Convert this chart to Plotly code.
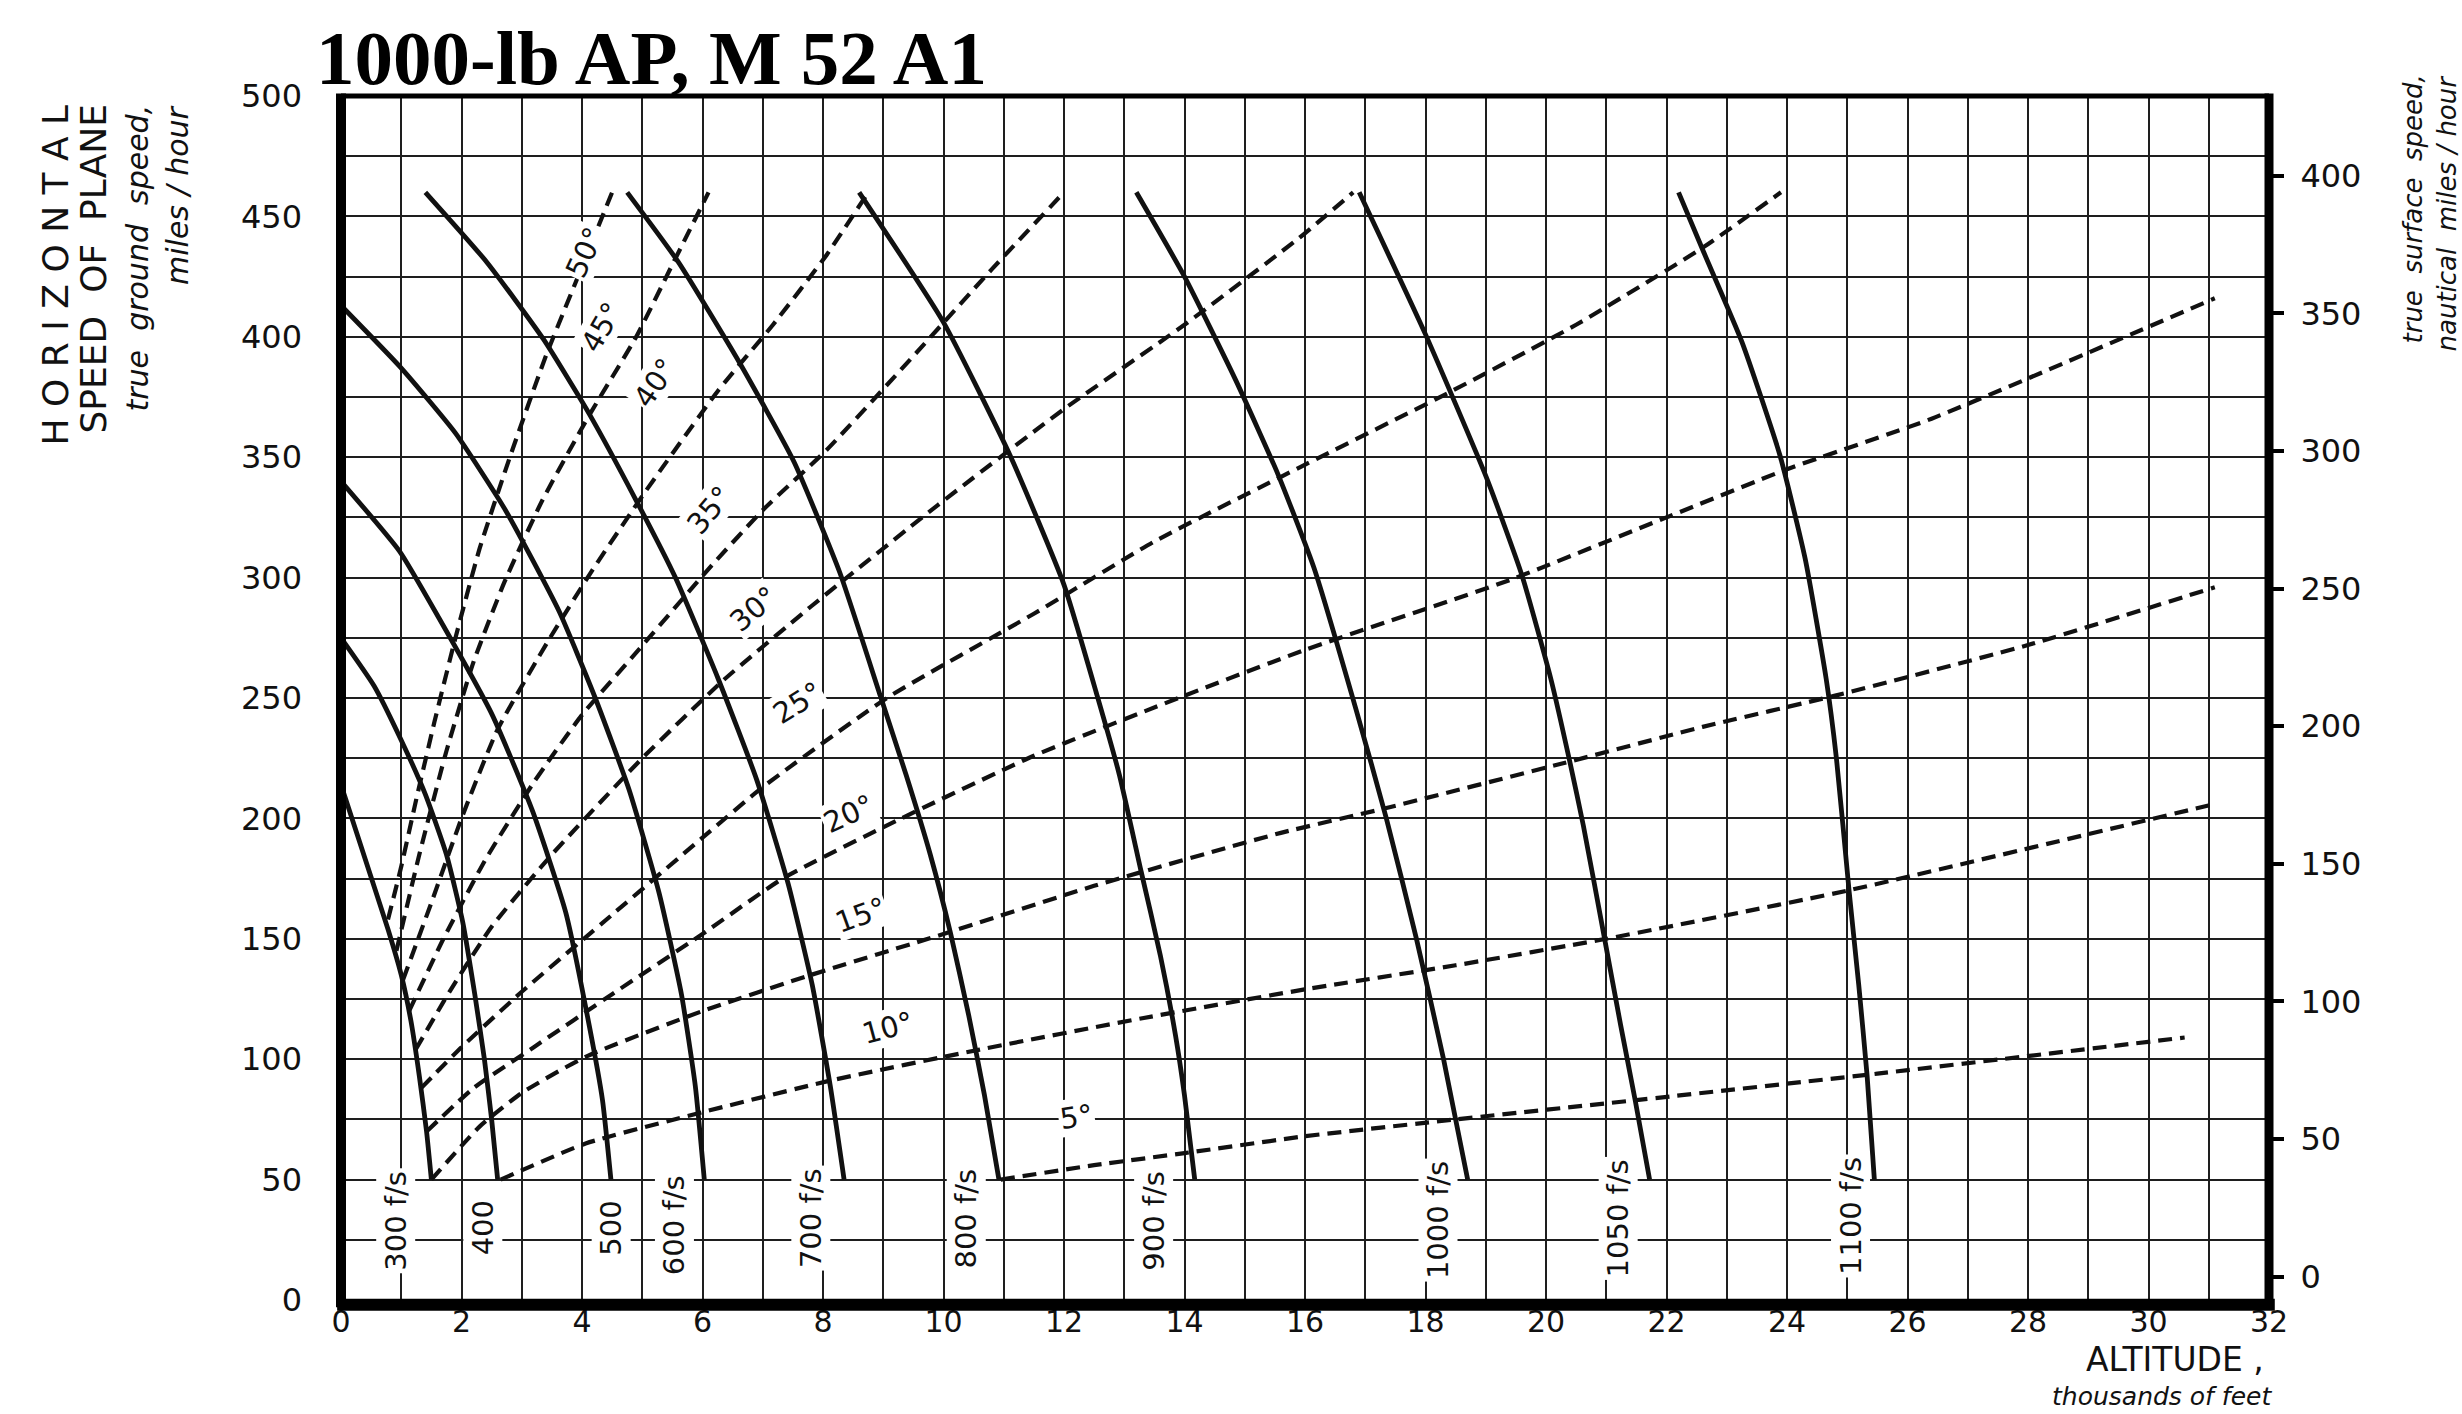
import plotly.graph_objects as go

# ---------------- data (altitude in thousands of feet, speed in mph) ----------------
title_text = "1000-lb AP, M 52 A1"

# constant striking-velocity curves (solid)
sv_labels = ["300 f/s", "400", "500", "600 f/s", "700 f/s", "800 f/s", "900 f/s",
             "1000 f/s", "1050 f/s", "1100 f/s"]
v300_alt = [0.0, 0.52, 0.78, 1.0, 1.16, 1.30, 1.42, 1.50]
v300_mph = [214, 174, 154, 135, 116, 93, 70, 50]
v400_alt = [0.0, 0.55, 0.99, 1.40, 1.75, 2.02, 2.22, 2.38, 2.50, 2.60]
v400_mph = [275, 255, 233, 210, 185, 157, 127, 100, 75, 50]
v500_alt = [0.0, 0.97, 1.63, 2.51, 3.18, 3.73, 4.12, 4.34, 4.48]
v500_mph = [340, 311, 283, 243, 203, 161, 114, 83, 50]
v600_alt = [0.0, 1.0, 1.9, 2.73, 3.62, 4.22, 4.78, 5.28, 5.65, 5.88, 6.03]
v600_mph = [413, 387, 360, 328, 286, 250, 212, 169, 127, 89, 50]
v700_alt = [1.4, 2.42, 3.36, 4.12, 4.9, 5.55, 6.26, 6.9, 7.42, 7.82, 8.12, 8.35]
v700_mph = [460, 431, 399, 368, 332, 300, 258, 216, 173, 131, 89, 50]
v800_alt = [4.75, 5.6, 6.62, 7.52, 8.28, 8.95, 9.38, 9.78, 10.12, 10.42, 10.68, 10.92]
v800_mph = [460, 431, 389, 348, 302, 251, 218, 185, 152, 118, 85, 50]
v900_alt = [8.6, 10.0, 11.1, 12.0, 12.55, 12.92, 13.28, 13.6, 13.85, 14.0, 14.17]
v900_mph = [460, 406, 351, 297, 251, 218, 178, 143, 110, 85, 50]
v1000_alt = [13.2, 14.0, 14.85, 15.55, 16.15, 16.85, 17.35, 17.85, 18.3, 18.7]
v1000_mph = [460, 425, 382, 343, 304, 245, 200, 150, 100, 50]
v1050_alt = [16.9, 18.0, 19.02, 19.6, 20.08, 20.4, 20.62, 20.98, 21.24, 21.48, 21.72]
v1050_mph = [460, 401, 341, 301, 258, 223, 197, 149, 114, 83, 50]
v1100_alt = [22.2, 22.62, 23.25, 23.88, 24.3, 24.65, 24.82, 25.03, 25.19, 25.33, 25.45]
v1100_mph = [460, 435, 398, 351, 308, 258, 225, 170, 131, 93, 50]

# constant striking-angle curves (dashed)
ang_labels = ["50°", "45°", "40°", "35°", "30°", "25°", "20°", "15°", "10°", "5°"]
a50_alt = [0.78, 1.0, 1.25, 1.55, 1.9, 2.3, 2.83, 3.4, 3.95, 4.5]
a50_mph = [158, 180, 208, 240, 275, 312, 352, 392, 426, 460]
a45_alt = [0.92, 1.3, 1.75, 2.2, 2.71, 3.34, 4.11, 4.9, 5.5, 6.1]
a45_mph = [145, 185, 228, 265, 298, 332, 367, 400, 430, 460]
a40_alt = [1.03, 1.5, 2.0, 2.6, 3.47, 4.17, 5.06, 6.27, 7.17, 8.06, 8.75]
a40_mph = [133, 165, 200, 237, 275, 303, 336, 378, 405, 434, 460]
a35_alt = [1.13, 1.7, 2.4, 3.2, 4.0, 4.87, 6.15, 7.04, 8.06, 9.5, 10.8, 12.0]
a35_mph = [120, 150, 183, 215, 243, 268, 305, 329, 353, 392, 428, 460]
a30_alt = [1.24, 1.8, 2.5, 3.5, 5.0, 6.33, 7.8, 9.9, 12.0, 14.0, 15.9, 16.8]
a30_mph = [104, 128, 155, 185, 225, 257, 288, 330, 370, 405, 441, 460]
a25_alt = [1.33, 2.0, 3.0, 4.5, 6.0, 7.0, 9.06, 11.5, 13.5, 15.93, 18.4, 20.5, 22.6, 23.9]
a25_mph = [88, 105, 128, 160, 192, 213, 250, 285, 315, 346, 377, 405, 437, 460]
a20_alt = [1.42, 2.2, 3.2, 4.5, 6.0, 7.33, 9.3, 11.5, 13.9, 16.0, 19.4, 22.0, 24.0, 26.4, 31.1]
a20_mph = [70, 88, 105, 127, 152, 175, 200, 226, 250, 270, 299, 325, 345, 366, 416]
a15_alt = [1.5, 2.3, 3.0, 4.06, 6.0, 7.8, 10.0, 12.5, 15.6, 17.3, 20.3, 22.6, 24.8, 28.0, 31.1]
a15_mph = [50, 72, 86, 101, 120, 135, 152, 172, 194, 204, 223, 238, 251, 272, 296]
a10_alt = [2.65, 4.06, 6.0, 8.1, 10.6, 13.3, 16.0, 18.5, 21.0, 25.0, 31.1]
a10_mph = [50, 65, 78, 91, 104, 117, 129, 139, 150, 170, 206]
a5_alt = [10.95, 12.5, 14.0, 16.0, 18.5, 21.5, 25.5, 30.6]
a5_mph = [50, 56, 61, 68, 75, 83, 94, 109]

# label anchor points
sv_label_alt = [0.9, 2.35, 4.48, 5.54, 7.8, 10.38, 13.48, 18.2, 21.2, 25.05]
sv_label_mph = [33, 30, 30, 31, 34, 34, 33, 33, 34, 35]
ang_label_alt = [4.04, 4.33, 5.21, 6.12, 6.85, 7.58, 8.42, 8.63, 9.07, 12.2]
ang_label_mph = [435, 404, 381, 328, 287, 248, 202, 160, 113, 76]
ang_label_rot = [-65, -60, -56, -50, -40, -32, -25, -20, -15, -8]

x_ticks = list(range(0, 33))
y_ticks = list(range(0, 501, 25))
y2_ticks = list(range(0, 401, 50))

# ---------------- figure ----------------
INK = "#111111"
SANS = "DejaVu Sans"
W, H = 2462, 1414
PL, PR, PT, PB = 341, 2269, 96, 1300   # plot area in pixels


def px2paper_x(px):
    return (px - PL) / (PR - PL)


def px2paper_y(py):
    return (PB - py) / (PB - PT)


fig = go.Figure()

solid = [(v300_alt, v300_mph), (v400_alt, v400_mph), (v500_alt, v500_mph),
         (v600_alt, v600_mph), (v700_alt, v700_mph), (v800_alt, v800_mph),
         (v900_alt, v900_mph), (v1000_alt, v1000_mph), (v1050_alt, v1050_mph),
         (v1100_alt, v1100_mph)]
for (xs, ys), name in zip(solid, sv_labels):
    fig.add_trace(go.Scatter(x=xs, y=ys, mode="lines", name=name,
                             line=dict(color=INK, width=4.8, shape="spline", smoothing=0.5),
                             showlegend=False, hoverinfo="skip"))

dashed = [(a50_alt, a50_mph), (a45_alt, a45_mph), (a40_alt, a40_mph), (a35_alt, a35_mph),
          (a30_alt, a30_mph), (a25_alt, a25_mph), (a20_alt, a20_mph), (a15_alt, a15_mph),
          (a10_alt, a10_mph), (a5_alt, a5_mph)]
for (xs, ys), name in zip(dashed, ang_labels):
    fig.add_trace(go.Scatter(x=xs, y=ys, mode="lines", name=name,
                             line=dict(color=INK, width=4.2, dash="14px,8px",
                                       shape="spline", smoothing=0.5),
                             showlegend=False, hoverinfo="skip"))

# invisible trace to carry the right-hand (nautical) axis
fig.add_trace(go.Scatter(x=[0, 32], y=[0, 400], yaxis="y2", mode="lines",
                         line=dict(width=0, color="rgba(0,0,0,0)"),
                         showlegend=False, hoverinfo="skip"))

annotations = []
for xv, yv, t in zip(sv_label_alt, sv_label_mph, sv_labels):
    annotations.append(dict(x=xv, y=yv, xref="x", yref="y", text=t, showarrow=False,
                            textangle=-90, bgcolor="white", borderpad=2,
                            font=dict(family=SANS, size=29, color=INK)))
for xv, yv, t, r in zip(ang_label_alt, ang_label_mph, ang_labels, ang_label_rot):
    annotations.append(dict(x=xv, y=yv, xref="x", yref="y", text=t, showarrow=False,
                            textangle=r, bgcolor="white", borderpad=1,
                            font=dict(family=SANS, size=29, color=INK)))

# title
annotations.append(dict(x=px2paper_x(314), y=px2paper_y(58), xref="paper", yref="paper",
                        xanchor="left", yanchor="middle", showarrow=False,
                        text="<b>" + title_text + "</b>",
                        font=dict(family="Liberation Serif", size=77, color="black")))

# left axis title (rotated lines, aligned at the top)
nb = "\u00a0"
left_lines = [(nb.join("HORIZONTAL"), 55, 36, False),
              ("SPEED" + nb * 2 + "OF" + nb * 2 + "PLANE", 93, 36, False),
              ("true" + nb * 2 + "ground" + nb * 2 + "speed,", 137, 30, True),
              ("miles / hour", 177, 30, True)]
for txt, xc, fs, it in left_lines:
    annotations.append(dict(x=px2paper_x(xc), y=px2paper_y(103), xref="paper", yref="paper",
                            xanchor="center", yanchor="top", showarrow=False, textangle=-90,
                            text=("<i>" + txt + "</i>") if it else txt,
                            font=dict(family=SANS, size=fs, color=INK)))

# right axis title
right_lines = [("true" + nb * 2 + "surface" + nb * 2 + "speed,", 2413),
               ("nautical" + nb * 2 + "miles / hour", 2447)]
for txt, xc in right_lines:
    annotations.append(dict(x=px2paper_x(xc), y=px2paper_y(73), xref="paper", yref="paper",
                            xanchor="center", yanchor="top", showarrow=False, textangle=-90,
                            text="<i>" + txt + "</i>",
                            font=dict(family=SANS, size=26, color=INK)))

# x-axis title
annotations.append(dict(x=px2paper_x(2266), y=px2paper_y(1359), xref="paper", yref="paper",
                        xanchor="right", yanchor="middle", showarrow=False,
                        text="ALTITUDE" + nb + ",", font=dict(family=SANS, size=33, color=INK)))
annotations.append(dict(x=px2paper_x(2274), y=px2paper_y(1396), xref="paper", yref="paper",
                        xanchor="right", yanchor="middle", showarrow=False,
                        text="<i>thousands of feet</i>",
                        font=dict(family=SANS, size=25, color=INK)))

shapes = [
    dict(type="line", xref="paper", yref="paper", x0=0, x1=0, y0=-0.006, y1=1.002,
         line=dict(color="black", width=10)),
    dict(type="line", xref="paper", yref="paper", x0=-0.002, x1=1.003, y0=-0.004, y1=-0.004,
         line=dict(color="black", width=12)),
    dict(type="line", xref="paper", yref="paper", x0=0, x1=1, y0=1, y1=1,
         line=dict(color="black", width=5)),
    dict(type="line", xref="paper", yref="paper", x0=1, x1=1, y0=-0.006, y1=1.002,
         line=dict(color="black", width=9)),
]

fig.update_layout(
    width=W, height=H,
    margin=dict(l=PL, r=W - PR, t=PT, b=H - PB, pad=0),
    paper_bgcolor="white", plot_bgcolor="white",
    showlegend=False,
    xaxis=dict(range=[0, 32], tickmode="array", tickvals=x_ticks,
               ticktext=[str(v) if v % 2 == 0 else "" for v in x_ticks],
               showgrid=True, gridcolor="#1e1e1e", gridwidth=2.4, zeroline=False,
               showline=False, ticks="", ticklabelstandoff=1,
               tickfont=dict(family=SANS, size=30, color=INK)),
    yaxis=dict(range=[0, 500], tickmode="array", tickvals=y_ticks,
               ticktext=[str(v) if v % 50 == 0 else "" for v in y_ticks],
               showgrid=True, gridcolor="#1e1e1e", gridwidth=2.4, zeroline=False,
               showline=False, ticks="", ticklabelstandoff=38,
               tickfont=dict(family=SANS, size=32, color=INK)),
    yaxis2=dict(range=[-8.5, 429], overlaying="y", side="right", tickmode="array",
                tickvals=y2_ticks, ticktext=[str(v) for v in y2_ticks],
                showgrid=False, zeroline=False, showline=False,
                ticks="outside", ticklen=14, tickwidth=4, tickcolor="black",
                ticklabelstandoff=10,
                tickfont=dict(family=SANS, size=32, color=INK)),
    annotations=annotations,
    shapes=shapes,
)

fig.write_html("out.html")
